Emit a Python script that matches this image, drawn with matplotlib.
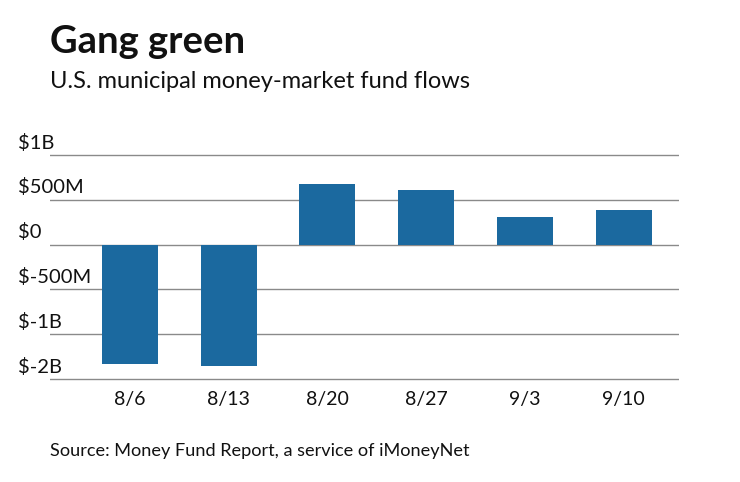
import matplotlib
matplotlib.use("Agg")
import matplotlib.pyplot as plt
import matplotlib.transforms as mtransforms

categories = ["8/6", "8/13", "8/20", "8/27", "9/3", "9/10"]
flows_billion = [-1.33, -1.35, 0.68, 0.61, 0.31, 0.39]
ytick_values = [1.0, 0.5, 0.0, -0.5, -1.0, -1.5]
ytick_labels = ["$1B", "$500M", "$0", "$-500M", "$-1B", "$-2B"]

plt.rcParams['font.family'] = ['Lato', 'DejaVu Sans']

W, H = 740, 482
fig = plt.figure(figsize=(W / 100, H / 100), dpi=100)

def fx(px):
    return px / W

def fy(py):
    return 1 - py / H

top_px, bot_px = 150, 384
ax = fig.add_axes([fx(50), fy(bot_px), fx(679) - fx(50), fy(top_px) - fy(bot_px)])
ppu = 89.7
pad = 5 / ppu
ax.set_ylim(-1.5 - pad, 1.0 + pad)
ax.set_xlim(-0.81, 5.56)

for v in ytick_values:
    ax.axhline(v, color="#8a8a8a", lw=1.0, zorder=1)

x = list(range(len(categories)))
ax.bar(x, flows_billion, width=0.567, color="#1b699f", zorder=2)

for s in ax.spines.values():
    s.set_visible(False)
ax.set_yticks([])
ax.set_xticks(x)
ax.set_xticklabels(categories, fontsize=14, color="#111111")
ax.tick_params(axis="x", length=0, pad=5)

trans = mtransforms.blended_transform_factory(fig.transFigure, ax.transData)
offset = mtransforms.offset_copy(trans, fig=fig, x=0, y=2.5, units="points")
for v, lab in zip(ytick_values, ytick_labels):
    ax.text(fx(18), v, lab, transform=offset, ha="left", va="bottom",
            fontsize=14.5, color="#111111")

fig.text(fx(50), fy(42), "Gang green", fontsize=27.5, fontweight="bold",
         ha="left", va="center", color="#111111")
fig.text(fx(50), fy(81), "U.S. municipal money-market fund flows", fontsize=17,
         ha="left", va="center", color="#111111")
fig.text(fx(50), fy(451), "Source: Money Fund Report, a service of iMoneyNet",
         fontsize=13.1, ha="left", va="center", color="#111111")

fig.savefig("out.png", dpi=100)
